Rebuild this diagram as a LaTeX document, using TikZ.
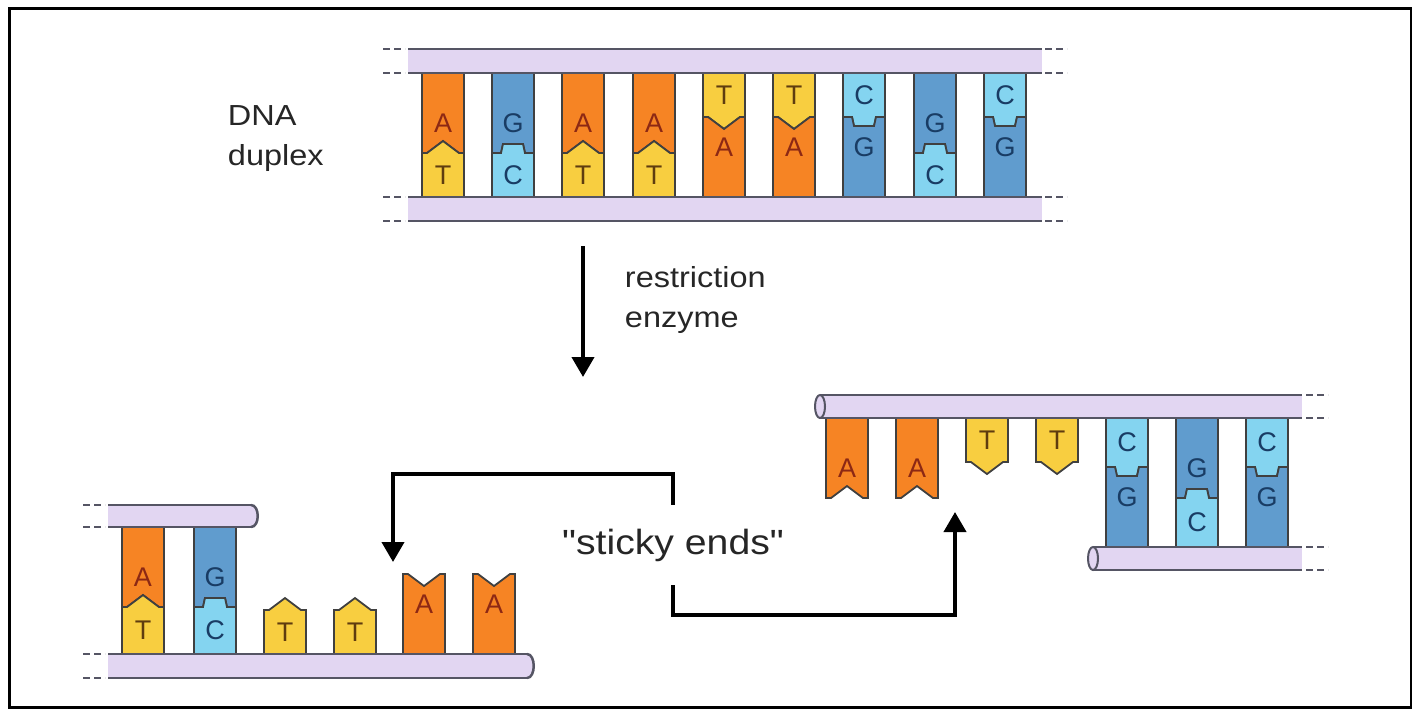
\documentclass[tikz,border=0pt]{standalone}
\usepackage{fontspec}
\setmainfont{Liberation Sans}
\usetikzlibrary{arrows.meta}

\definecolor{adenine}{RGB}{246,132,36}
\definecolor{thymine}{RGB}{248,206,64}
\definecolor{guanine}{RGB}{96,156,206}
\definecolor{cytosine}{RGB}{132,212,240}
\definecolor{sugar}{RGB}{226,214,242}
\definecolor{sugaredge}{RGB}{85,85,100}
\definecolor{aletter}{RGB}{140,40,20}
\definecolor{tletter}{RGB}{95,60,15}
\definecolor{gcletter}{RGB}{25,60,100}

\tikzset{
  nuc/.style={draw=black!75, line width=1.8pt},
  nucletter/.style={font=\fontsize{27}{27}\selectfont, inner sep=0pt},
  backbone/.style={fill=sugar},
  backedge/.style={draw=sugaredge, line width=2.5pt},
  cut/.style={draw=sugaredge, line width=2pt, dash pattern=on 7pt off 4pt},
  caption/.style={font=\fontsize{29}{40}\selectfont, text=black!85, align=left, xscale=1.12},
  bigarrow/.style={line width=4pt, -{Triangle[width=22pt,length=20pt]}}
}

% one base: x centre, y at the backbone, y where it meets its partner
\newcommand{\nucdir}[2]{\pgfmathsetmacro\nucd{ifthenelse(#2>#1,1,-1)}}
\newcommand{\baseA}[3]{%
  \nucdir{#2}{#3}\pgfmathsetmacro\nucy{#3-12*\nucd}\pgfmathsetmacro\nucl{#3-30*\nucd}%
  \filldraw[nuc, fill=adenine] (#1-21,#2) -- (#1-21,#3) -- (#1-16,#3) -- (#1,\nucy)
    -- (#1+16,#3) -- (#1+21,#3) -- (#1+21,#2) -- cycle;
  \node[nucletter, text=aletter] (A-#1) at (#1,\nucl) {A};}
\newcommand{\baseT}[3]{%
  \nucdir{#2}{#3}\pgfmathsetmacro\nucy{#3+12*\nucd}\pgfmathsetmacro\nucl{(#2+#3)/2}%
  \filldraw[nuc, fill=thymine] (#1-21,#2) -- (#1-21,#3) -- (#1-16,#3) -- (#1,\nucy)
    -- (#1+16,#3) -- (#1+21,#3) -- (#1+21,#2) -- cycle;
  \node[nucletter, text=tletter] (T-#1) at (#1,\nucl) {T};}
\newcommand{\baseG}[3]{%
  \nucdir{#2}{#3}\pgfmathsetmacro\nucy{#3-9*\nucd}\pgfmathsetmacro\nucl{#3-30*\nucd}%
  \filldraw[nuc, fill=guanine] (#1-21,#2) -- (#1-21,#3) -- (#1-12,#3) -- (#1-10,\nucy)
    -- (#1+10,\nucy) -- (#1+12,#3) -- (#1+21,#3) -- (#1+21,#2) -- cycle;
  \node[nucletter, text=gcletter] (G-#1) at (#1,\nucl) {G};}
\newcommand{\baseC}[3]{%
  \nucdir{#2}{#3}\pgfmathsetmacro\nucy{#3+9*\nucd}\pgfmathsetmacro\nucl{(#2+#3)/2}%
  \filldraw[nuc, fill=cytosine] (#1-21,#2) -- (#1-21,#3) -- (#1-12,#3) -- (#1-10,\nucy)
    -- (#1+10,\nucy) -- (#1+12,#3) -- (#1+21,#3) -- (#1+21,#2) -- cycle;
  \node[nucletter, text=gcletter] (C-#1) at (#1,\nucl) {C};}
% pair: x, upper backbone, lower backbone, upper base, lower base, junction
\newcommand{\bp}[6]{\csname base#4\endcsname{#1}{#2}{#6}\csname base#5\endcsname{#1}{#3}{#6}}

% sugar-phosphate strands
\newcommand{\strand}[4]{%
  \fill[backbone] (#1,#3) rectangle (#2,#4);
  \draw[backedge] (#1,#3) -- (#2,#3) (#1,#4) -- (#2,#4);}
\newcommand{\looseend}[2]{\draw[cut] (#1,#2) -- ++(22,0);}
\newcommand{\capright}[3]{%
  \filldraw[backbone, backedge] (#1-1,#2) .. controls (#1+8,#2) and (#1+8,#3) .. (#1-1,#3);}
\newcommand{\capleft}[3]{%
  \filldraw[backbone, backedge, line width=2pt] (#1,{(#2+#3)/2}) ellipse [x radius=5, y radius={(#3-#2)/2}];}

\begin{document}
\begin{tikzpicture}[x=1pt, y=-1pt]
  \useasboundingbox (0,0) rectangle (1414,710);
  \draw[line width=2.5pt] (9.5,8.5) rectangle (1411,707.5);

  % the intact duplex
  \bp{443}{73}{197}{A}{T}{153}
  \bp{513}{73}{197}{G}{C}{153}
  \bp{583}{73}{197}{A}{T}{153}
  \bp{654}{73}{197}{A}{T}{153}
  \bp{724}{73}{197}{T}{A}{117}
  \bp{794}{73}{197}{T}{A}{117}
  \bp{864}{73}{197}{C}{G}{117}
  \bp{935}{73}{197}{G}{C}{153}
  \bp{1005}{73}{197}{C}{G}{117}
  \strand{408}{1042}{49}{73}
  \strand{408}{1042}{197}{221}
  \looseend{383}{49} \looseend{383}{73} \looseend{383}{197} \looseend{383}{221}
  \looseend{1045}{49} \looseend{1045}{73} \looseend{1045}{197} \looseend{1045}{221}

  % left fragment
  \bp{143}{527}{654}{A}{T}{607}
  \bp{215}{527}{654}{G}{C}{607}
  \baseT{285}{654}{610}
  \baseT{355}{654}{610}
  \baseA{424}{654}{574}
  \baseA{494}{654}{574}
  \strand{108}{252}{505}{527}
  \capright{252}{505}{527}
  \strand{108}{528}{654}{678}
  \capright{528}{654}{678}
  \looseend{83}{505} \looseend{83}{527} \looseend{83}{654} \looseend{83}{678}

  % right fragment
  \baseA{847}{418}{498}
  \baseA{917}{418}{498}
  \baseT{987}{418}{462}
  \baseT{1057}{418}{462}
  \bp{1127}{418}{547}{C}{G}{467}
  \bp{1197}{418}{547}{G}{C}{498}
  \bp{1267}{418}{547}{C}{G}{467}
  \strand{820}{1302}{395}{418}
  \capleft{820}{395}{418}
  \strand{1093}{1302}{547}{570}
  \capleft{1093}{547}{570}
  \looseend{1306}{395} \looseend{1306}{418} \looseend{1306}{547} \looseend{1306}{570}

  % labels and arrows
  \node[caption, anchor=west] (duplex) at (224,139) {DNA\\duplex};
  \node[caption, anchor=west] (enzyme) at (621,300) {restriction\\enzyme};
  \node[caption, font=\fontsize{35}{40}\selectfont, minimum height=80pt] (sticky) at (673,545)
    {\textquotedbl sticky ends\textquotedbl};

  \coordinate (cuttop) at (583,246);
  \coordinate (cutbottom) at (583,377);
  \coordinate (leftpair) at (393,562);
  \coordinate (rightpair) at (955,512);
  \draw[bigarrow] (cuttop) -- (cutbottom);
  \draw[bigarrow] (sticky.north) -- ++(0,-31) -| (leftpair);
  \draw[bigarrow] (sticky.south) -- ++(0,30) -| (rightpair);
\end{tikzpicture}
\end{document}
